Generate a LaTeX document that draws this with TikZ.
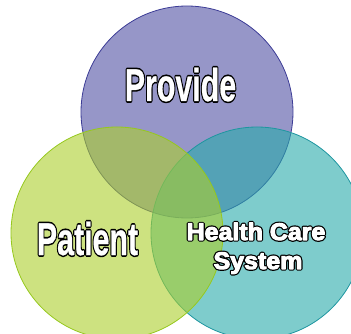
\documentclass[tikz,border=0pt]{standalone}
\usepackage{fontspec}
\setmainfont{Liberation Sans}
\usetikzlibrary{positioning}

\definecolor{provfill}{RGB}{80,80,163}
\definecolor{provline}{RGB}{60,60,150}
\definecolor{patfill}{RGB}{172,207,43}
\definecolor{patline}{RGB}{150,200,30}
\definecolor{hcsfill}{RGB}{40,170,170}
\definecolor{hcsline}{RGB}{30,150,160}

% white letters over a black, stroked copy (text render mode 2: fill, then stroke);
% #1 = black rim width, #2 = extra white stroke (fake bold), #3 = text
\newcommand{\rimtext}[3]{%
  \rlap{\color{black}\special{pdf:literal direct 2 Tr #1 w 1 j}#3\special{pdf:literal direct 0 Tr}}%
  \special{pdf:literal direct 2 Tr #2 w 1 j}#3\special{pdf:literal direct 0 Tr}}

\tikzset{
  set/.style={circle, minimum size=212pt, inner sep=0pt, fill opacity=0.6, line width=0.8pt},
  bigword/.style={text=white, font=\fontsize{46}{50}\selectfont\bfseries, xscale=0.66,
                  transform shape, inner sep=0pt, anchor=base},
  smallword/.style={text=white, font=\fontsize{24}{26}\selectfont\bfseries, xscale=1.04,
                    transform shape, inner sep=0pt, anchor=base},
}

\begin{document}
\begin{tikzpicture}[x=1pt, y=-1pt]

  \clip (0,0) rectangle (351,334);
  \useasboundingbox (0,0) rectangle (351,334);

  % ============ the three sets ============
  \node[set, draw=provline, fill=provfill] (provide) at (187,112) {};
  \node[set, draw=hcsline, fill=hcsfill] (system) at (257,233) {};
  \node[set, draw=patline, fill=patfill] (patient) at (117,233) {};

  % ============ labels ============
  \node[bigword] (provlbl) at (180.5,101) {\rimtext{3.6}{0.3}{Provide}};
  \node[bigword] (patlbl) at (87.5,255) {\rimtext{3.6}{0.3}{Patient}};
  \node[smallword] (hcslbl) at (256,240) {\rimtext{3.4}{1.0}{Health Care}};
  \node[smallword] (syslbl) at (258,269) {\rimtext{3.4}{1.0}{System}};

\end{tikzpicture}
\end{document}
